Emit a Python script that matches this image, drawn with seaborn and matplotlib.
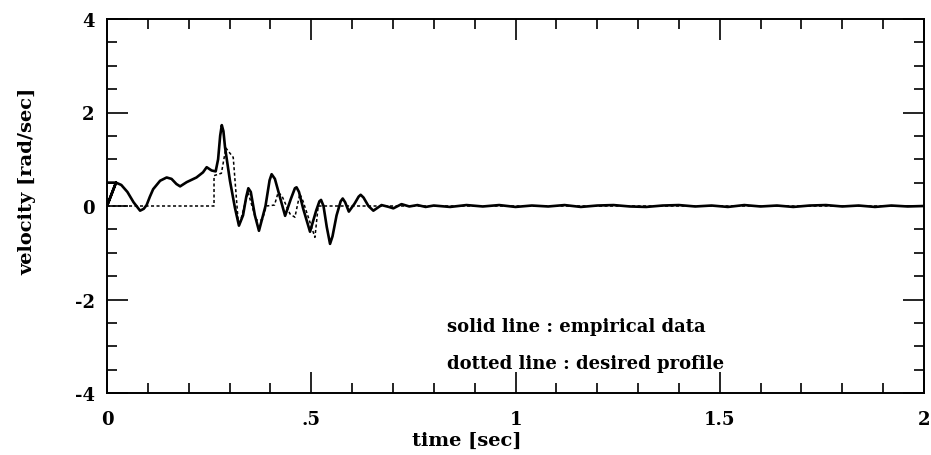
import numpy as np
import pandas as pd
import matplotlib
matplotlib.use("Agg")
import matplotlib.pyplot as plt
from matplotlib.ticker import MultipleLocator, FixedLocator, FixedFormatter
import seaborn as sns

sns.set_style("ticks")
plt.rcParams['font.family'] = ['DejaVu Serif']
plt.rcParams['font.weight'] = 'bold'
plt.rcParams['axes.unicode_minus'] = False
for key in ['text.color', 'axes.labelcolor', 'xtick.color', 'ytick.color', 'axes.edgecolor']:
    plt.rcParams[key] = 'black'

# solid line : empirical data (the first few points retrace the start-up corner)
solid_t = [0.0, 0.022, 0.0, 0.022, 0.035, 0.05, 0.065, 0.081, 0.09, 0.097,
           0.105, 0.113, 0.13, 0.146, 0.158, 0.17, 0.179, 0.195, 0.219, 0.235,
           0.244, 0.256, 0.266, 0.272, 0.277, 0.281, 0.285, 0.289, 0.301, 0.313,
           0.323, 0.333, 0.341, 0.346, 0.352, 0.362, 0.372, 0.388, 0.398, 0.403,
           0.411, 0.436, 0.45, 0.46, 0.464, 0.47, 0.48, 0.497, 0.512, 0.52,
           0.524, 0.53, 0.538, 0.546, 0.552, 0.562, 0.572, 0.577, 0.583, 0.592,
           0.606, 0.616, 0.621, 0.628, 0.64, 0.652, 0.672, 0.69, 0.701, 0.721,
           0.74, 0.76, 0.78, 0.8, 0.84, 0.88, 0.92, 0.96, 1.0, 1.04,
           1.08, 1.12, 1.16, 1.2, 1.24, 1.28, 1.32, 1.36, 1.4, 1.44,
           1.48, 1.52, 1.56, 1.6, 1.64, 1.68, 1.72, 1.76, 1.8, 1.84,
           1.88, 1.92, 1.96, 2.0]
solid_v = [0.5, 0.5, 0.0, 0.5, 0.45, 0.3, 0.08, -0.1, -0.06, 0.02,
           0.2, 0.36, 0.54, 0.61, 0.58, 0.47, 0.42, 0.51, 0.61, 0.72,
           0.83, 0.76, 0.74, 1.0, 1.5, 1.73, 1.6, 1.25, 0.54, -0.03,
           -0.42, -0.2, 0.2, 0.38, 0.3, -0.2, -0.53, 0.0, 0.55, 0.68,
           0.58, -0.21, 0.15, 0.38, 0.40, 0.3, -0.05, -0.55, -0.1, 0.1,
           0.13, 0.0, -0.45, -0.81, -0.65, -0.2, 0.1, 0.16, 0.08, -0.12,
           0.05, 0.2, 0.24, 0.18, 0.0, -0.1, 0.02, -0.02, -0.05, 0.04,
           -0.01, 0.02, -0.02, 0.01, -0.02, 0.02, -0.01, 0.02, -0.02, 0.01,
           -0.01, 0.02, -0.02, 0.01, 0.02, -0.01, -0.02, 0.01, 0.02, -0.01,
           0.01, -0.02, 0.02, -0.01, 0.01, -0.02, 0.01, 0.02, -0.01, 0.01,
           -0.02, 0.01, -0.01, 0.0]

# dotted line : desired profile
dotted_t = [0.0, 0.262, 0.262, 0.28, 0.291, 0.309, 0.321, 0.326, 0.345, 0.365,
            0.38, 0.39, 0.41, 0.419, 0.428, 0.448, 0.46, 0.472, 0.48, 0.509,
            0.517, 2.0]
dotted_v = [0.0, 0.0, 0.65, 0.7, 1.24, 1.04, -0.31, -0.35, 0.3, -0.3,
            -0.3, 0.0, 0.02, 0.29, 0.22, -0.17, -0.24, 0.26, 0.1, -0.67,
            0.0, 0.0]

solid_df = pd.DataFrame({"time": solid_t, "velocity": solid_v})
dotted_df = pd.DataFrame({"time": dotted_t, "velocity": dotted_v})

fig = plt.figure(figsize=(9.31, 4.56), dpi=100)
ax = fig.add_axes([107 / 931, 1 - 394 / 456, 817 / 931, 374 / 456])

sns.lineplot(x="time", y="velocity", data=dotted_df, sort=False, estimator=None,
             color="black", linewidth=1.1, linestyle=(0, (2, 1.6)), ax=ax)
sns.lineplot(x="time", y="velocity", data=solid_df, sort=False, estimator=None,
             color="black", linewidth=1.9, solid_joinstyle="round", ax=ax)

ax.set_xlim(0, 2)
ax.set_ylim(-4, 4)
ax.xaxis.set_major_locator(FixedLocator([0, 0.5, 1, 1.5, 2]))
ax.xaxis.set_major_formatter(FixedFormatter(["0", ".5", "1", "1.5", "2"]))
ax.xaxis.set_minor_locator(MultipleLocator(0.1))
ax.yaxis.set_major_locator(MultipleLocator(2))
ax.yaxis.set_minor_locator(MultipleLocator(0.5))
ax.tick_params(which="both", direction="in", top=True, right=True, color="black",
               labelsize=13, width=1.2)
ax.tick_params(which="major", length=15, pad=9)
ax.tick_params(axis="x", which="major", pad=12)
ax.tick_params(which="minor", length=7.5)
for lab in ax.get_xticklabels() + ax.get_yticklabels():
    lab.set_fontweight("bold")
for s in ax.spines.values():
    s.set_linewidth(1.4)
    s.set_color("black")

ax.set_xlabel("time [sec]", fontsize=14, fontweight="bold")
ax.set_ylabel("velocity [rad/sec]", fontsize=14, fontweight="bold")
ax.xaxis.set_label_coords(0.44, -0.10)
ax.yaxis.set_label_coords(-0.086, 0.57)

ax.text(0.832, -2.57, "solid line : empirical data", fontsize=13, fontweight="bold",
        va="center", ha="left")
ax.text(0.832, -3.36, "dotted line : desired profile", fontsize=13, fontweight="bold",
        va="center", ha="left")

plt.savefig("out.png", dpi=100)
